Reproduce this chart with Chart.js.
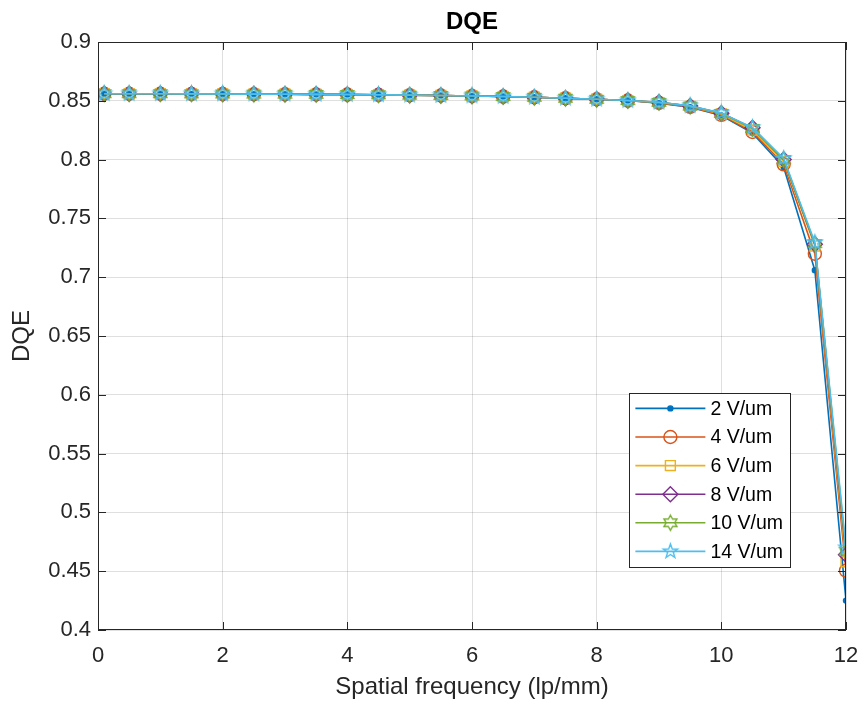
<!DOCTYPE html>
<html lang="en">
<head>
<meta charset="UTF-8">
<title>DQE</title>
<script src="https://cdn.jsdelivr.net/npm/chart.js"></script>
<style>
    body { margin: 0; background: #fff; }
    #wrap { width: 861px; height: 707px; }
</style>
</head>
<body>
<div id="wrap"><canvas id="dqeChart" width="861" height="707"></canvas></div>
<script>
    // Spatial frequency (lp/mm) samples
    const freq = [0.1, 0.5, 1, 1.5, 2, 2.5, 3, 3.5, 4, 4.5, 5, 5.5, 6, 6.5, 7, 7.5, 8, 8.5, 9, 9.5, 10, 10.5, 11, 11.5, 12];

    // DQE per electric field
    const dqe2 = [0.856, 0.856, 0.856, 0.8559, 0.8558, 0.8557, 0.8556, 0.8555, 0.8553, 0.8551, 0.8548, 0.8545, 0.8541, 0.8536, 0.853, 0.8522, 0.8513, 0.8502, 0.848, 0.8445, 0.8375, 0.8225, 0.7935, 0.706, 0.425];
    const dqe4 = [0.856, 0.856, 0.856, 0.8559, 0.8558, 0.8557, 0.8556, 0.8555, 0.8553, 0.8551, 0.8548, 0.8545, 0.8541, 0.8536, 0.853, 0.8522, 0.8513, 0.8502, 0.8482, 0.8448, 0.838, 0.8235, 0.796, 0.72, 0.4505];
    const dqe6 = [0.856, 0.856, 0.856, 0.8559, 0.8558, 0.8557, 0.8556, 0.8555, 0.8553, 0.8551, 0.8548, 0.8545, 0.8541, 0.8536, 0.853, 0.8522, 0.8513, 0.8502, 0.8485, 0.8452, 0.8388, 0.825, 0.7985, 0.7265, 0.458];
    const dqe8 = [0.856, 0.856, 0.856, 0.8559, 0.8558, 0.8557, 0.8556, 0.8555, 0.8553, 0.8551, 0.8548, 0.8545, 0.8541, 0.8536, 0.853, 0.8522, 0.8513, 0.8502, 0.8487, 0.8455, 0.8395, 0.827, 0.8, 0.728, 0.464];
    const dqe10 = [0.856, 0.856, 0.856, 0.8559, 0.8558, 0.8557, 0.8556, 0.8555, 0.8553, 0.8551, 0.8548, 0.8545, 0.8541, 0.8536, 0.853, 0.8522, 0.8513, 0.8502, 0.8487, 0.8455, 0.8393, 0.8265, 0.8, 0.7285, 0.467];
    const dqe14 = [0.856, 0.856, 0.856, 0.8559, 0.8558, 0.8557, 0.8556, 0.8555, 0.8553, 0.8551, 0.8548, 0.8545, 0.8541, 0.8536, 0.853, 0.8522, 0.8513, 0.8502, 0.8488, 0.8457, 0.8397, 0.8272, 0.801, 0.7295, 0.47];

    const seriesLabels = ['2 V/um', '4 V/um', '6 V/um', '8 V/um', '10 V/um', '14 V/um'];
    const seriesData = [dqe2, dqe4, dqe6, dqe8, dqe10, dqe14];

    const xTicks = [0, 2, 4, 6, 8, 10, 12];
    const yTicks = [0.4, 0.45, 0.5, 0.55, 0.6, 0.65, 0.7, 0.75, 0.8, 0.85, 0.9];

    const chartTitle = 'DQE';
    const colors = ['#0072BD', '#D95319', '#EDB120', '#7E2F8E', '#77AC30', '#4DBEEE'];
    const FONT = "'Liberation Sans', Arial, Helvetica, sans-serif";
    const AXIS_COLOR = '#262626';

    // star shaped markers (hexagram / pentagram) drawn on small canvases
    function starMarker(points, outer, inner, color) {
        const c = document.createElement('canvas');
        const s = Math.ceil(outer * 2 + 4);
        c.width = s;
        c.height = s;
        const g = c.getContext('2d');
        g.strokeStyle = color;
        g.lineWidth = 1.4;
        g.beginPath();
        for (let i = 0; i < points * 2; i++) {
            const r = i % 2 ? inner : outer;
            const a = -Math.PI / 2 + i * Math.PI / points;
            const px = s / 2 + r * Math.cos(a);
            const py = s / 2 + r * Math.sin(a);
            if (i === 0) g.moveTo(px, py); else g.lineTo(px, py);
        }
        g.closePath();
        g.stroke();
        return c;
    }

    const markers = [
        { style: 'circle', radius: 2.5, fill: true },
        { style: 'circle', radius: 6.5, fill: false },
        { style: 'rect', radius: 7, fill: false },
        { style: 'rectRot', radius: 7.5, fill: false },
        { style: starMarker(6, 7.5, 4.3, colors[4]), radius: 7, fill: false },
        { style: starMarker(5, 7.5, 3, colors[5]), radius: 7, fill: false }
    ];

    const datasets = seriesData.map((vals, i) => ({
        label: seriesLabels[i],
        data: vals.map((v, k) => ({ x: freq[k], y: v })),
        showLine: true,
        borderColor: colors[i],
        borderWidth: 1.6,
        tension: 0,
        fill: false,
        pointStyle: markers[i].style,
        pointRadius: markers[i].radius,
        pointBorderColor: colors[i],
        pointBackgroundColor: markers[i].fill ? colors[i] : 'rgba(0,0,0,0)',
        pointBorderWidth: 1.4,
        order: seriesData.length - i   // later series on top, like MATLAB
    }));

    // draw one legend marker the same way the points are drawn
    function drawMarker(ctx, m, color, x, y) {
        if (typeof m.style !== 'string') {
            ctx.drawImage(m.style, x - m.style.width / 2, y - m.style.height / 2);
            return;
        }
        ctx.save();
        ctx.strokeStyle = color;
        ctx.fillStyle = color;
        ctx.lineWidth = 1.4;
        ctx.beginPath();
        if (m.style === 'circle') {
            ctx.arc(x, y, m.radius, 0, Math.PI * 2);
        } else if (m.style === 'rect') {
            const h = m.radius * Math.SQRT1_2;
            ctx.rect(x - h, y - h, 2 * h, 2 * h);
        } else {
            ctx.moveTo(x, y - m.radius);
            ctx.lineTo(x + m.radius, y);
            ctx.lineTo(x, y + m.radius);
            ctx.lineTo(x - m.radius, y);
            ctx.closePath();
        }
        if (m.fill) ctx.fill();
        ctx.stroke();
        ctx.restore();
    }

    // axes box, inward ticks, title over the plot area and the boxed legend
    const matlabAxes = {
        id: 'matlabAxes',
        afterDraw(chart) {
            const ctx = chart.ctx;
            const ca = chart.chartArea;
            const xs = chart.scales.x;
            const ys = chart.scales.y;
            const tl = 8;

            ctx.save();
            ctx.strokeStyle = AXIS_COLOR;
            ctx.lineWidth = 1;
            ctx.beginPath();
            xTicks.forEach(v => {
                const px = Math.round(xs.getPixelForValue(v)) + 0.5;
                ctx.moveTo(px, ca.bottom); ctx.lineTo(px, ca.bottom - tl);
                ctx.moveTo(px, ca.top); ctx.lineTo(px, ca.top + tl);
            });
            yTicks.forEach(v => {
                const py = Math.round(ys.getPixelForValue(v)) + 0.5;
                ctx.moveTo(ca.left, py); ctx.lineTo(ca.left + tl, py);
                ctx.moveTo(ca.right, py); ctx.lineTo(ca.right - tl, py);
            });
            ctx.stroke();
            ctx.strokeRect(Math.round(ca.left) + 0.5, Math.round(ca.top) + 0.5,
                Math.round(ca.width) - 1, Math.round(ca.height) - 1);

            // title, centred over the axes like MATLAB
            ctx.fillStyle = '#000';
            ctx.font = 'bold 24px ' + FONT;
            ctx.textAlign = 'center';
            ctx.textBaseline = 'middle';
            ctx.fillText(chartTitle, (ca.left + ca.right) / 2, ca.top - 20);

            // legend
            ctx.font = '19.5px ' + FONT;
            const textW = Math.max(...seriesLabels.map(t => ctx.measureText(t).width));
            const rowH = 28.6;
            const boxW = 81 + textW + 7;
            const boxH = rowH * seriesLabels.length + 2;
            const right = ca.right - 56;
            const bottom = ca.bottom - 63;
            const left = right - boxW;
            const top = bottom - boxH;

            ctx.fillStyle = '#fff';
            ctx.fillRect(left, top, boxW, boxH);
            ctx.strokeStyle = AXIS_COLOR;
            ctx.strokeRect(Math.round(left) + 0.5, Math.round(top) + 0.5, Math.round(boxW), Math.round(boxH));

            seriesLabels.forEach((lab, i) => {
                const y = top + 15 + i * rowH;
                ctx.strokeStyle = colors[i];
                ctx.lineWidth = 1.6;
                ctx.beginPath();
                ctx.moveTo(left + 6, y);
                ctx.lineTo(left + 76, y);
                ctx.stroke();
                drawMarker(ctx, markers[i], colors[i], left + 41, y);
                ctx.fillStyle = '#000';
                ctx.textAlign = 'left';
                ctx.textBaseline = 'middle';
                ctx.fillText(lab, left + 81, y + 1);
            });
            ctx.restore();
        }
    };

    new Chart(document.getElementById('dqeChart').getContext('2d'), {
        type: 'scatter',
        data: { datasets: datasets },
        plugins: [matlabAxes],
        options: {
            responsive: false,
            animation: false,
            layout: { padding: { left: 0, right: 15, top: 42, bottom: 0 } },
            plugins: {
                legend: { display: false },
                tooltip: { enabled: false },
                title: { display: false }
            },
            scales: {
                x: {
                    type: 'linear',
                    min: 0,
                    max: 12,
                    afterBuildTicks: s => { s.ticks = xTicks.map(v => ({ value: v })); },
                    afterFit: s => { s.height = 77; s.paddingLeft = 0; s.paddingRight = 0; },
                    grid: { color: 'rgba(38,38,38,0.15)', drawTicks: false },
                    border: { display: false },
                    ticks: {
                        color: AXIS_COLOR,
                        padding: 13,
                        maxRotation: 0,
                        font: { family: FONT, size: 22 },
                        callback: v => String(v)
                    },
                    title: {
                        display: true,
                        text: 'Spatial frequency (lp/mm)',
                        color: AXIS_COLOR,
                        font: { family: FONT, size: 24 },
                        padding: { top: 0, bottom: 5 }
                    }
                },
                y: {
                    type: 'linear',
                    min: 0.4,
                    max: 0.9,
                    afterBuildTicks: s => { s.ticks = yTicks.map(v => ({ value: v })); },
                    afterFit: s => { s.width = 98; s.paddingTop = 0; s.paddingBottom = 0; },
                    grid: { color: 'rgba(38,38,38,0.15)', drawTicks: false },
                    border: { display: false },
                    ticks: {
                        color: AXIS_COLOR,
                        padding: 7,
                        font: { family: FONT, size: 22 },
                        callback: v => String(v)
                    },
                    title: {
                        display: true,
                        text: 'DQE',
                        color: AXIS_COLOR,
                        font: { family: FONT, size: 24 },
                        padding: { top: 8, bottom: 0 }
                    }
                }
            }
        }
    });
</script>
</body>
</html>
